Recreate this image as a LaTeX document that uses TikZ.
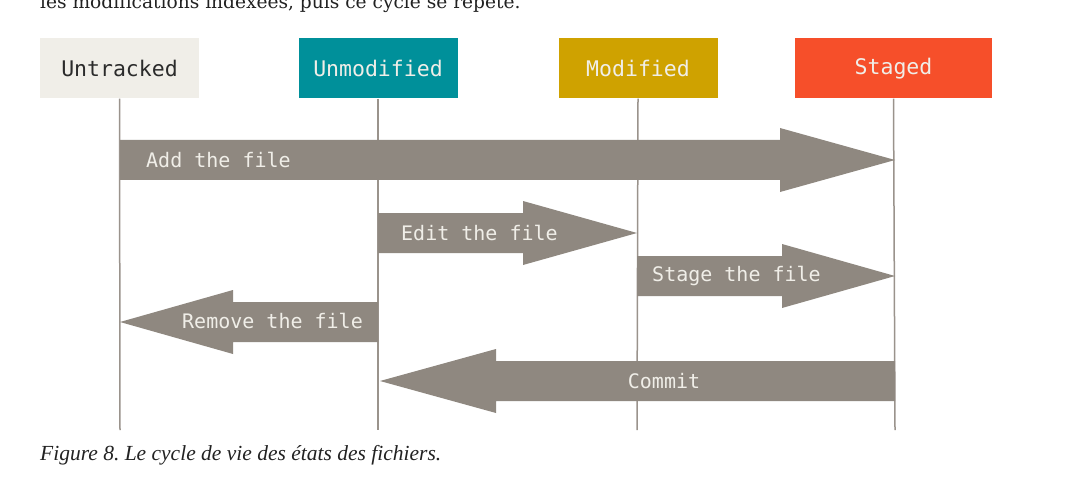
\documentclass[tikz,border=0pt]{standalone}
\usepackage{fontspec}
\setmainfont{Liberation Serif}
\setmonofont{DejaVu Sans Mono}
\newfontfamily\introfont{DejaVu Serif}
\definecolor{untrfill}{HTML}{F0EEE8}
\definecolor{unmodfill}{HTML}{00909A}
\definecolor{modfill}{HTML}{CFA200}
\definecolor{stagefill}{HTML}{F64F2A}
\definecolor{boxtext}{HTML}{F0EEE8}
\definecolor{darktext}{HTML}{2B2B2B}
\definecolor{arrowfill}{HTML}{8F8880}
\definecolor{linecol}{HTML}{9A938C}
\definecolor{captext}{HTML}{222222}
\newcommand\fatarrow[5]{% name, x0, xb, xt, y
  \coordinate (#1-start) at (#2,#5);
  \coordinate (#1-tip) at (#4,#5);
  \fill[arrowfill] (#2,#5-20) -- (#3,#5-20) -- (#3,#5-32) -- (#1-tip) -- (#3,#5+32) -- (#3,#5+20) -- (#2,#5+20) -- cycle;
}
\begin{document}
\begin{tikzpicture}[x=1pt,y=-1pt,
  statebox/.style={minimum width=159pt, minimum height=60pt, inner sep=0pt,
    font=\ttfamily\fontsize{21.5}{24}\selectfont, text=boxtext},
  vline/.style={draw=linecol, line width=1.5pt},
  arrlabel/.style={font=\ttfamily\fontsize{20}{24}\selectfont, text=boxtext, inner sep=0pt}]
\useasboundingbox (0,0) rectangle (1067,481);
\fill[white] (0,0) rectangle (1067,481);
\node[anchor=base west, inner sep=0pt, text=captext, font=\introfont\fontsize{18.6}{22}\selectfont] (intro) at (40,9) {les modifications indexées, puis ce cycle se répète.};
% state boxes
\node[statebox, fill=untrfill, text=darktext] (untr) at (119.5,68.5) {Untracked};
\node[statebox, fill=unmodfill] (unmod) at (378,68.5) {Unmodified};
\node[statebox, fill=modfill] (mod) at (638,68.5) {Modified};
\node[statebox, fill=stagefill, minimum width=197pt] (stag) at (893.5,68.5) {Staged};
% life lines
\coordinate (untrEnd) at (120,430);
\coordinate (unmodEnd) at (378,430);
\coordinate (modEnd) at (637,430);
\coordinate (stagEnd) at (895,430);
\draw[vline] (untr.south) -- (untrEnd);
\draw[vline] (unmod.south) -- (unmodEnd);
\draw[vline] (mod.south) -- (modEnd);
\draw[vline] (stag.south) -- (stagEnd);
% arrows
\fatarrow{add}{120}{780}{895}{160}
\fatarrow{edit}{378}{523}{637}{233}
\fatarrow{stage}{637}{782}{895}{276}
\fatarrow{remove}{378}{233}{120}{322}
\fatarrow{commit}{895}{496}{380}{381}
\node[arrlabel, anchor=west] (addl) at (146,160) {Add the file};
\node[arrlabel, anchor=west] (editl) at (401,233) {Edit the file};
\node[arrlabel, anchor=west] (stagel) at (652,276) {Stage the file};
\node[arrlabel, anchor=west] (removel) at (182,321) {Remove the file};
\node[arrlabel] (commitl) at (664,381) {Commit};
% caption
\node[anchor=base west, inner sep=0pt, text=captext, font=\itshape\fontsize{21.5}{24}\selectfont] (cap) at (40,460) {Figure 8.\ Le cycle de vie des états des fichiers.};
\end{tikzpicture}
\end{document}
